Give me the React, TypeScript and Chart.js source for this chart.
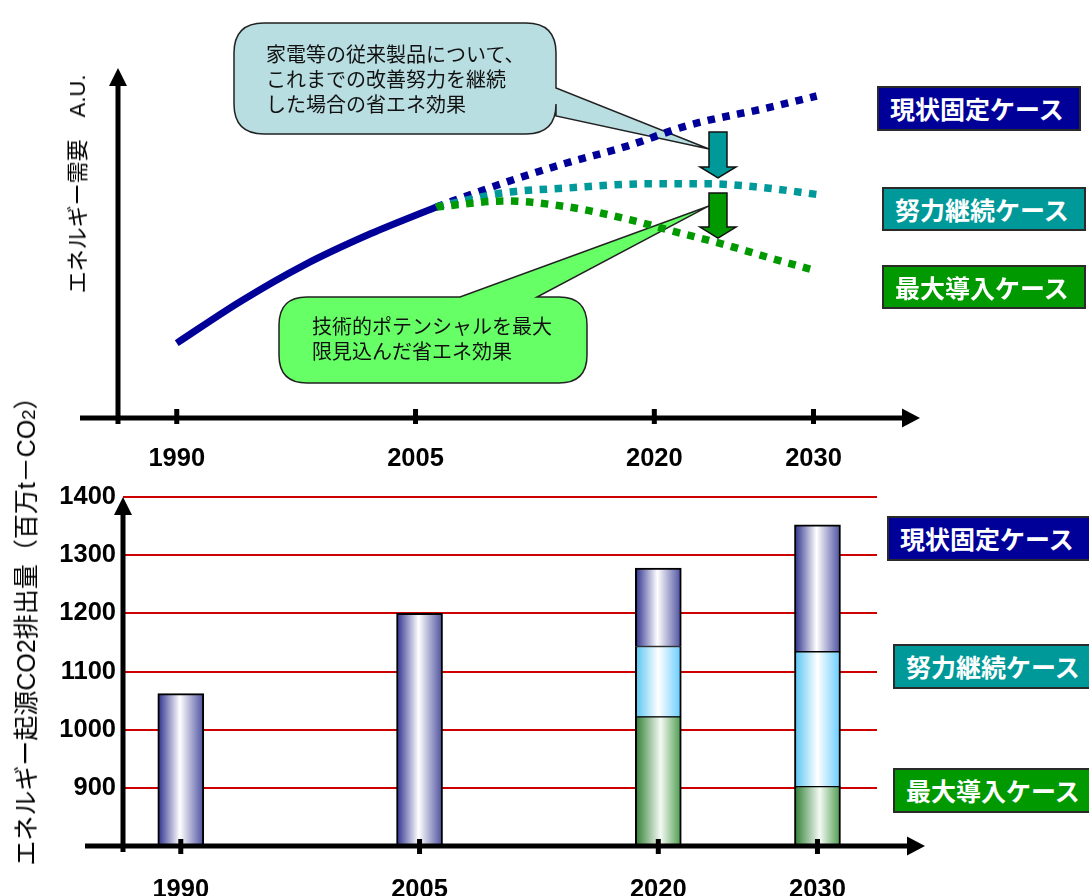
import React, { useEffect, useRef } from 'react';
import { Chart, registerables } from 'chart.js';

Chart.register(...registerables);

const LATIN = '"Liberation Sans", Arial, Helvetica, sans-serif';
const JP = '"Noto Sans CJK JP", "Noto Sans", sans-serif';
const MIXED = '"Liberation Sans", "Noto Sans CJK JP", sans-serif';

const NAVY = '#000099';
const TEAL = '#009999';
const GREEN = '#009900';

// Case names (legend)
const caseLabels = ['現状固定ケース', '努力継続ケース', '最大導入ケース'];
const caseColors = [NAVY, TEAL, GREEN];

// Axis tick years
const axisYears = [1990, 2005, 2020, 2030];

// ---- Top chart: energy demand (A.U.) ----
const actualYears = [1990, 1994, 1998, 2002.2, 2006.3];
const actualDemand = [21.4, 33.3, 43.7, 52.7, 60.3];
const fixedYears = [2006.3, 2010.5, 2014.3, 2018.3, 2022.2, 2027.1, 2030.2];
const fixedDemand = [60.3, 67.1, 72.6, 77.7, 83.7, 88.6, 92];
const effortYears = [2006.3, 2010.5, 2014.5, 2019.5, 2023.5, 2026.5, 2030.5];
const effortDemand = [60.3, 64.3, 65.7, 66.9, 66.9, 66, 63.7];
const maxYears = [2006.3, 2010.6, 2014.6, 2018.5, 2021.4, 2024.3, 2027.3, 2030.2];
const maxDemand = [60.3, 62, 60.3, 56.6, 53.1, 49.7, 45.7, 42];

// Saving-effect arrows (year, from -> to, A.U.)
const arrowYear = 2024;
const effortArrow = [81.7, 68.6];
const maxArrow = [64.3, 51.4];

const callout1Lines = ['家電等の従来製品について、', 'これまでの改善努力を継続', 'した場合の省エネ効果'];
const callout2Lines = ['技術的ポテンシャルを最大', '限見込んだ省エネ効果'];

// ---- Bottom chart: CO2 emissions (million t-CO2) ----
const co2Years = [1990, 2005, 2020, 2030];
const co2Fixed = [1062, 1200, 1278, 1352];
const co2Effort: (number | null)[] = [null, null, 1143, 1134];
const co2Max: (number | null)[] = [null, null, 1022, 902];
const co2Ticks = [800, 900, 1000, 1100, 1200, 1300, 1400];

const pts = (xs: number[], ys: number[]) => xs.map((x, i) => ({ x, y: ys[i] }));

function axesPlugin(id: string, o: { leftExt: number; belowExt: number; tipExt: number; tickUp: number; tickDown: number }) {
  return {
    id,
    afterDraw(chart: any) {
      const { ctx, chartArea: a } = chart;
      const xs = chart.scales.x;
      ctx.save();
      ctx.fillStyle = '#000';
      ctx.strokeStyle = '#000';
      ctx.lineWidth = 5;
      ctx.lineCap = 'butt';
      // y axis
      ctx.beginPath();
      ctx.moveTo(a.left, a.bottom + o.belowExt);
      ctx.lineTo(a.left, a.top + 15);
      ctx.stroke();
      ctx.beginPath();
      ctx.moveTo(a.left, a.top);
      ctx.lineTo(a.left - 9, a.top + 18);
      ctx.lineTo(a.left + 9, a.top + 18);
      ctx.closePath();
      ctx.fill();
      // x axis
      const tip = a.right + o.tipExt;
      ctx.beginPath();
      ctx.moveTo(a.left - o.leftExt, a.bottom);
      ctx.lineTo(tip - 15, a.bottom);
      ctx.stroke();
      ctx.beginPath();
      ctx.moveTo(tip, a.bottom);
      ctx.lineTo(tip - 18, a.bottom - 9.5);
      ctx.lineTo(tip - 18, a.bottom + 9.5);
      ctx.closePath();
      ctx.fill();
      // tick marks
      axisYears.forEach((yr) => {
        const px = xs.getPixelForValue(yr);
        ctx.fillRect(px - 2.5, a.bottom - o.tickUp, 5, o.tickUp + o.tickDown);
      });
      ctx.restore();
    },
  };
}

function bubble(ctx: CanvasRenderingContext2D, x0: number, y0: number, x1: number, y1: number, r: number,
  tail: { side: 'right' | 'top'; a: number; b: number; tip: { x: number; y: number } }, fill: string) {
  ctx.save();
  ctx.beginPath();
  ctx.moveTo(x0 + r, y0);
  if (tail.side === 'top') {
    ctx.lineTo(tail.a, y0);
    ctx.lineTo(tail.tip.x, tail.tip.y);
    ctx.lineTo(tail.b, y0);
  }
  ctx.lineTo(x1 - r, y0);
  ctx.quadraticCurveTo(x1, y0, x1, y0 + r);
  if (tail.side === 'right') {
    ctx.lineTo(x1, tail.a);
    ctx.lineTo(tail.tip.x, tail.tip.y);
    ctx.lineTo(x1, tail.b);
  }
  ctx.lineTo(x1, y1 - r);
  ctx.quadraticCurveTo(x1, y1, x1 - r, y1);
  ctx.lineTo(x0 + r, y1);
  ctx.quadraticCurveTo(x0, y1, x0, y1 - r);
  ctx.lineTo(x0, y0 + r);
  ctx.quadraticCurveTo(x0, y0, x0 + r, y0);
  ctx.closePath();
  ctx.fillStyle = fill;
  ctx.fill();
  ctx.lineWidth = 1.5;
  ctx.strokeStyle = '#222';
  ctx.stroke();
  ctx.restore();
}

function downArrow(ctx: CanvasRenderingContext2D, cx: number, yTop: number, yTip: number, fill: string) {
  const sw = 9, hw = 18, hl = 11;
  ctx.save();
  ctx.beginPath();
  ctx.moveTo(cx - sw, yTop);
  ctx.lineTo(cx + sw, yTop);
  ctx.lineTo(cx + sw, yTip - hl);
  ctx.lineTo(cx + hw, yTip - hl);
  ctx.lineTo(cx, yTip);
  ctx.lineTo(cx - hw, yTip - hl);
  ctx.lineTo(cx - sw, yTip - hl);
  ctx.closePath();
  ctx.fillStyle = fill;
  ctx.fill();
  ctx.lineWidth = 1.5;
  ctx.strokeStyle = '#111';
  ctx.stroke();
  ctx.restore();
}

const annotationPlugin = {
  id: 'annotations',
  beforeDatasetsDraw(chart: any) {
    const { ctx } = chart;
    const xs = chart.scales.x, ys = chart.scales.y;
    const ax = xs.getPixelForValue(arrowYear);
    bubble(ctx, 234, 23, 556, 134, 30,
      { side: 'right', a: 88, b: 116, tip: { x: ax - 9, y: ys.getPixelForValue(effortArrow[0]) + 17 } }, '#B9DEE2');
    bubble(ctx, 279, 297, 587, 383, 28,
      { side: 'top', a: 460, b: 537, tip: { x: ax - 9, y: ys.getPixelForValue(maxArrow[0]) + 13 } }, '#66FF66');
  },
  afterDatasetsDraw(chart: any) {
    const { ctx } = chart;
    const xs = chart.scales.x, ys = chart.scales.y;
    const ax = xs.getPixelForValue(arrowYear);
    downArrow(ctx, ax, ys.getPixelForValue(effortArrow[0]), ys.getPixelForValue(effortArrow[1]), TEAL);
    downArrow(ctx, ax, ys.getPixelForValue(maxArrow[0]), ys.getPixelForValue(maxArrow[1]), GREEN);
  },
};

const lineDs = (label: string, data: any[], color: string, dashed: boolean) => ({
  label,
  data,
  borderColor: color,
  borderWidth: dashed ? 7.5 : 7,
  borderDash: dashed ? [7.5, 7.5] : [],
  borderCapStyle: 'butt',
  pointRadius: 0,
  cubicInterpolationMode: 'monotone',
  fill: false,
});

type Stops = [number, string][];
const fixedStops: Stops = [[0, '#2B2E8C'], [0.48, '#FFFFFF'], [1, '#4B4F9E']];
const effortStops: Stops = [[0, '#55C4F2'], [0.5, '#FFFFFF'], [1, '#66CCFF']];
const maxStops: Stops = [[0, '#2E7D32'], [0.55, '#F4FAF4'], [1, '#4C9A4C']];

function barGradient(c: any, stops: Stops) {
  const chart = c.chart;
  const xs = chart && chart.scales && chart.scales.x;
  const raw = c.raw;
  if (c.type !== 'data' || !xs || !raw || typeof raw.x !== 'number') return stops[0][1];
  const px = xs.getPixelForValue(raw.x);
  if (!Number.isFinite(px)) return stops[0][1];
  const g = chart.ctx.createLinearGradient(px - 23, 0, px + 23, 0);
  stops.forEach(([off, col]) => g.addColorStop(off, col));
  return g;
}

const segs = (lo: (i: number) => number, hi: (number | null)[]) =>
  co2Years.map((yr, i) => (hi[i] == null ? null : { x: yr, y: [lo(i), hi[i] as number] })).filter(Boolean);

const barDs = (label: string, data: any[], stops: Stops, bw: any) => ({
  label,
  data,
  barThickness: 46,
  grouped: false,
  borderColor: '#000',
  borderWidth: bw,
  borderSkipped: false,
  backgroundColor: (c: any) => barGradient(c, stops),
});

const tickFont = { family: LATIN, size: 25.5, weight: 'bold' as const };

function TopChart() {
  const ref = useRef<HTMLCanvasElement>(null);
  useEffect(() => {
    const chart = new Chart(ref.current as HTMLCanvasElement, {
      type: 'line',
      data: {
        datasets: [
          lineDs('実績', pts(actualYears, actualDemand), NAVY, false),
          lineDs(caseLabels[2], pts(maxYears, maxDemand), GREEN, true),
          lineDs(caseLabels[1], pts(effortYears, effortDemand), TEAL, true),
          lineDs(caseLabels[0], pts(fixedYears, fixedDemand), NAVY, true),
        ] as any,
      },
      options: {
        responsive: false,
        animation: false,
        events: [],
        layout: { padding: { left: 118, right: 169, top: 68, bottom: 0 } },
        plugins: { legend: { display: false }, tooltip: { enabled: false } },
        scales: {
          x: {
            type: 'linear', min: 1986.31, max: 2036.69, offset: false,
            grid: { display: false }, border: { display: false },
            afterBuildTicks: (s: any) => { s.ticks = axisYears.map((v) => ({ value: v })); },
            afterFit: (s: any) => { s.height = 52; },
            ticks: { callback: (v: any) => String(v), font: tickFont, color: '#000', padding: 18, maxRotation: 0, autoSkip: false },
          },
          y: { type: 'linear', min: 0, max: 100, display: false },
        },
      } as any,
      plugins: [annotationPlugin, axesPlugin('axesTop', { leftExt: 38, belowExt: 6, tipExt: 0, tickUp: 9, tickDown: 6 })],
    });
    return () => chart.destroy();
  }, []);
  return <canvas ref={ref} width={1089} height={470} style={{ position: 'absolute', left: 0, top: 0, width: 1089, height: 470 }} />;
}

function BottomChart() {
  const ref = useRef<HTMLCanvasElement>(null);
  useEffect(() => {
    const chart = new Chart(ref.current as HTMLCanvasElement, {
      type: 'bar',
      data: {
        datasets: [
          barDs(caseLabels[2], segs(() => co2Ticks[0], co2Max), maxStops, { top: 1, bottom: 1, left: 2, right: 2 }),
          barDs(caseLabels[1], segs((i) => co2Max[i] as number, co2Effort), effortStops, { top: 1, bottom: 1, left: 2, right: 2 }),
          barDs(caseLabels[0], segs((i) => (co2Effort[i] ?? co2Ticks[0]) as number, co2Fixed), fixedStops, { top: 2, bottom: 1, left: 2, right: 2 }),
        ] as any,
      },
      options: {
        responsive: false,
        animation: false,
        events: [],
        layout: { padding: { left: 0, right: 212, top: 27, bottom: 0 } },
        plugins: { legend: { display: false }, tooltip: { enabled: false } },
        scales: {
          x: {
            type: 'linear', min: 1986.37, max: 2033.74, offset: false,
            grid: { display: false }, border: { display: false },
            afterBuildTicks: (s: any) => { s.ticks = co2Years.map((v) => ({ value: v })); },
            afterFit: (s: any) => { s.height = 50; },
            ticks: { callback: (v: any) => String(v), font: tickFont, color: '#000', padding: 21, maxRotation: 0, autoSkip: false },
          },
          y: {
            type: 'linear', min: co2Ticks[0], max: co2Ticks[co2Ticks.length - 1],
            afterBuildTicks: (s: any) => { s.ticks = co2Ticks.map((v) => ({ value: v })); },
            afterFit: (s: any) => { s.width = 123; },
            grid: {
              color: (c: any) => (c.tick && c.tick.value === co2Ticks[0] ? 'rgba(0,0,0,0)' : '#CC0000'),
              lineWidth: 2, drawTicks: false,
            },
            border: { display: false },
            ticks: { callback: (v: any) => (v === co2Ticks[0] ? '' : String(v)), font: tickFont, color: '#000', padding: 7 },
          },
        },
      } as any,
      plugins: [axesPlugin('axesBottom', { leftExt: 38, belowExt: 6, tipExt: 48, tickUp: 7, tickDown: 8 })],
    });
    return () => chart.destroy();
  }, []);
  return <canvas ref={ref} width={1089} height={426} style={{ position: 'absolute', left: 0, top: 470, width: 1089, height: 426 }} />;
}

function LegendBox({ i, left, top, height }: { i: number; left: number; top: number; height: number }) {
  return (
    <div
      style={{
        position: 'absolute', left, top, width: 204, height, boxSizing: 'border-box',
        background: caseColors[i], border: '2px solid #2a2a2a', color: '#fff',
        fontFamily: JP, fontWeight: 700, fontSize: 25, lineHeight: `${height - 4}px`,
        paddingLeft: 11, whiteSpace: 'nowrap', overflow: 'hidden',
      }}
    >
      {caseLabels[i]}
    </div>
  );
}

export default function App() {
  return (
    <div style={{ position: 'absolute', left: 0, top: 0, width: 1089, height: 896, overflow: 'hidden', background: '#fff' }}>
      <TopChart />
      <BottomChart />

      {/* y-axis titles */}
      <div style={{ position: 'absolute', left: 75, top: 184, transform: 'translate(-50%, -50%) rotate(-90deg)', whiteSpace: 'nowrap', fontFamily: MIXED, fontSize: 22, color: '#000' }}>
        エネルギー需要　A.U.
      </div>
      <div style={{ position: 'absolute', left: 24, top: 625, transform: 'translate(-50%, -50%) rotate(-90deg)', whiteSpace: 'nowrap', fontFamily: MIXED, fontSize: 25, color: '#000' }}>
        エネルギー起源CO2排出量（百万t－CO<span style={{ fontSize: '0.75em' }}>2</span>）
      </div>

      {/* callout texts */}
      <div style={{ position: 'absolute', left: 266, top: 41, fontFamily: JP, fontSize: 20, lineHeight: '25px', color: '#111', whiteSpace: 'nowrap' }}>
        {callout1Lines.map((l) => <div key={l}>{l}</div>)}
      </div>
      <div style={{ position: 'absolute', left: 312, top: 312.5, fontFamily: JP, fontSize: 20, lineHeight: '25px', color: '#111', whiteSpace: 'nowrap' }}>
        {callout2Lines.map((l) => <div key={l}>{l}</div>)}
      </div>

      {/* legends - top */}
      <LegendBox i={0} left={877} top={86} height={45} />
      <LegendBox i={1} left={882} top={187} height={44} />
      <LegendBox i={2} left={882} top={265} height={44} />
      {/* legends - bottom */}
      <LegendBox i={0} left={887} top={516} height={45} />
      <LegendBox i={1} left={893} top={644} height={45} />
      <LegendBox i={2} left={893} top={768} height={45} />
    </div>
  );
}
